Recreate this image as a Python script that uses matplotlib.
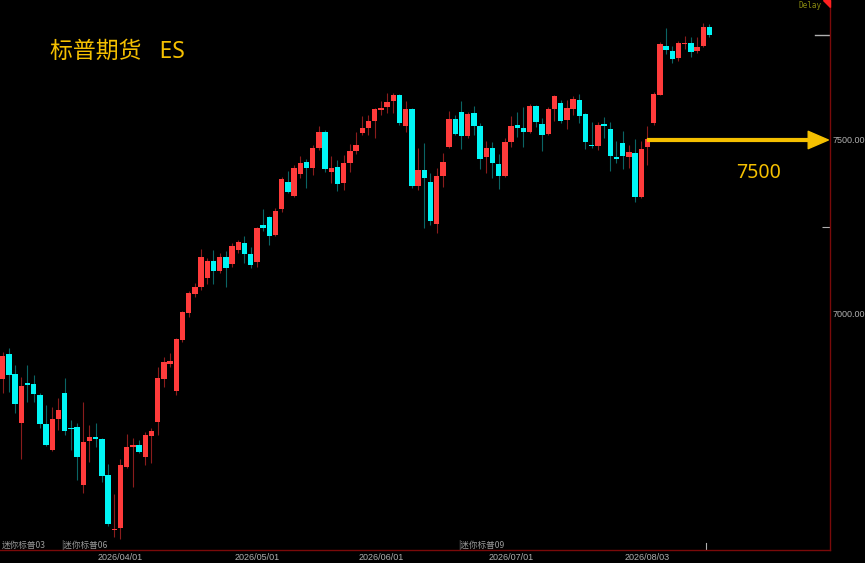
import matplotlib
matplotlib.use("Agg")
import matplotlib.pyplot as plt
from matplotlib.patches import Polygon

# daily candles, mini S&P (ES)
opens = [
    6813.2, 6885.0, 6827.6, 6686.8, 6801.7, 6798.9, 6767.2, 6683.9, 6609.2, 6698.3,
    6773.0, 6672.4, 6675.3, 6508.6, 6635.0, 6646.5, 6640.8, 6537.2, 6379.3, 6385.0,
    6560.3, 6617.8, 6623.5, 6589.1, 6649.4, 6689.6, 6813.2, 6856.3, 6778.7, 6925.3,
    7002.9, 7057.5, 7077.6, 7103.4, 7152.3, 7123.5, 7163.8, 7143.7, 7183.9, 7204.0,
    7172.4, 7149.4, 7255.7, 7278.7, 7227.0, 7301.7, 7379.3, 7339.1, 7402.3, 7436.8,
    7419.5, 7477.0, 7523.0, 7408.0, 7422.4, 7376.4, 7433.9, 7468.4, 7520.1, 7534.5,
    7554.6, 7586.2, 7594.8, 7612.1, 7629.3, 7540.2, 7589.1, 7367.8, 7413.8, 7379.3,
    7258.6, 7396.5, 7479.9, 7560.3, 7580.5, 7511.5, 7577.6, 7540.2, 7451.1, 7477.0,
    7431.1, 7396.5, 7494.3, 7543.1, 7534.5, 7523.0, 7597.7, 7546.0, 7517.2, 7589.1,
    7606.3, 7557.5, 7589.1, 7615.0, 7574.7, 7485.6, 7482.8, 7546.0, 7531.6, 7451.1,
    7491.4, 7451.1, 7462.6, 7336.2, 7479.9, 7548.9, 7629.3, 7770.1, 7755.8, 7735.6,
    7775.9, 7778.7, 7755.8, 7770.1, 7824.7]
closes = [
    6879.3, 6824.7, 6741.4, 6793.1, 6796.0, 6770.1, 6683.9, 6623.5, 6698.3, 6724.1,
    6663.8, 6669.5, 6589.1, 6632.2, 6646.5, 6640.8, 6534.3, 6396.5, 6382.1, 6566.1,
    6617.8, 6623.5, 6603.4, 6652.3, 6663.8, 6816.1, 6862.0, 6864.9, 6928.2, 7005.8,
    7060.4, 7077.6, 7163.8, 7152.3, 7123.5, 7163.8, 7131.1, 7195.4, 7206.9, 7172.4,
    7140.8, 7247.1, 7247.1, 7224.1, 7296.0, 7387.9, 7350.6, 7419.5, 7433.9, 7419.5,
    7477.0, 7523.0, 7416.7, 7419.5, 7373.6, 7433.9, 7468.4, 7485.6, 7534.5, 7554.6,
    7589.1, 7592.0, 7609.2, 7629.3, 7548.9, 7589.1, 7367.8, 7413.8, 7390.8, 7267.3,
    7396.5, 7436.8, 7560.3, 7517.2, 7511.5, 7574.7, 7540.2, 7445.4, 7477.0, 7433.9,
    7396.5, 7494.3, 7540.2, 7534.5, 7523.0, 7597.7, 7551.7, 7514.4, 7589.1, 7626.4,
    7554.6, 7592.0, 7617.8, 7568.9, 7494.3, 7482.8, 7543.1, 7540.2, 7454.0, 7445.4,
    7454.0, 7465.5, 7336.2, 7474.1, 7502.9, 7632.2, 7775.9, 7758.6, 7732.8, 7778.7,
    7778.7, 7752.9, 7767.2, 7824.7, 7801.7]
highs = [
    6890.8, 6902.3, 6853.4, 6819.0, 6853.4, 6824.7, 6772.0, 6738.5, 6732.7, 6758.6,
    6816.1, 6695.4, 6686.8, 6747.1, 6681.0, 6686.8, 6643.0, 6568.9, 6482.7, 6583.3,
    6655.2, 6643.7, 6638.0, 6660.9, 6672.4, 6847.7, 6876.4, 6887.9, 6931.0, 7008.6,
    7066.1, 7089.1, 7186.8, 7160.9, 7183.9, 7175.3, 7181.0, 7204.0, 7212.6, 7224.1,
    7192.5, 7250.0, 7301.7, 7281.0, 7304.6, 7393.7, 7410.9, 7428.2, 7454.0, 7445.4,
    7485.6, 7540.2, 7528.7, 7454.0, 7442.5, 7456.9, 7488.5, 7523.0, 7568.9, 7571.8,
    7592.0, 7612.1, 7635.1, 7635.1, 7632.0, 7612.1, 7592.0, 7477.0, 7491.4, 7405.2,
    7419.5, 7462.6, 7583.3, 7571.8, 7612.1, 7580.5, 7597.7, 7548.9, 7497.1, 7494.3,
    7459.8, 7505.7, 7568.9, 7580.5, 7594.8, 7603.5, 7600.0, 7563.2, 7594.8, 7628.0,
    7615.0, 7615.0, 7626.4, 7632.2, 7577.0, 7551.7, 7551.7, 7566.1, 7551.7, 7497.1,
    7525.9, 7485.6, 7502.9, 7497.1, 7540.2, 7637.9, 7781.6, 7821.8, 7770.1, 7784.5,
    7798.9, 7796.0, 7796.0, 7836.2, 7833.3]
lows = [
    6773.0, 6775.8, 6715.5, 6583.3, 6747.1, 6747.1, 6672.4, 6620.7, 6605.0, 6666.7,
    6652.3, 6609.2, 6522.9, 6485.6, 6574.7, 6617.8, 6517.2, 6390.7, 6359.2, 6353.4,
    6558.0, 6502.9, 6600.6, 6566.1, 6571.8, 6652.3, 6790.2, 6847.7, 6767.2, 6919.6,
    6991.4, 7048.9, 7069.0, 7086.2, 7086.2, 7117.8, 7077.6, 7135.0, 7175.3, 7146.5,
    7131.1, 7135.0, 7238.5, 7198.3, 7225.0, 7293.1, 7347.7, 7336.2, 7390.8, 7362.1,
    7399.4, 7471.3, 7408.0, 7376.4, 7353.5, 7356.3, 7408.0, 7459.8, 7514.4, 7514.4,
    7505.7, 7571.8, 7577.6, 7577.6, 7543.1, 7523.0, 7362.1, 7356.3, 7247.1, 7255.7,
    7232.8, 7365.0, 7477.0, 7514.4, 7474.1, 7505.7, 7514.4, 7416.7, 7405.2, 7390.8,
    7359.2, 7394.0, 7479.9, 7508.6, 7479.9, 7520.0, 7537.4, 7468.4, 7515.0, 7554.6,
    7548.9, 7531.6, 7571.8, 7548.9, 7474.1, 7477.0, 7471.3, 7505.7, 7410.9, 7433.9,
    7416.7, 7419.5, 7321.8, 7333.3, 7428.2, 7543.1, 7628.0, 7747.1, 7721.3, 7727.0,
    7761.5, 7738.5, 7750.0, 7767.2, 7796.0]

date_pos = [19, 41, 61, 82, 104]
date_labels = ["2026/04/01", "2026/05/01", "2026/06/01", "2026/07/01", "2026/08/03"]
contract_pos = [-0.2, 9.5, 73.5]
contract_labels = ["迷你标普03", "|迷你标普06", "|迷你标普09"]
price_ticks = [7000, 7500]
price_labels = ["7000.00", "7500.00"]
level = 7500
arrow_from = 104

UP = "#ff3b3b"
DOWN = "#00f5f5"
UP_WICK = "#8a1c1c"
DOWN_WICK = "#0a6464"
GOLD = "#f5c000"
GRAY = "#b0b0b0"
AXIS = "#7a0a0a"
CJK = ["Noto Sans CJK SC", "DejaVu Sans"]
MIXED = ["Noto Sans", "Noto Sans CJK SC"]

fig = plt.figure(figsize=(8.65, 5.63), dpi=100, facecolor="black")
ax = fig.add_axes([0, 13 / 563, 830 / 865, 550 / 563], facecolor="black")

n = len(opens)
xs = list(range(n))
up = [c >= o for o, c in zip(opens, closes)]
body_col = [UP if u else DOWN for u in up]
wick_col = [UP_WICK if u else DOWN_WICK for u in up]
bottoms = [min(o, c) for o, c in zip(opens, closes)]
heights = [max(abs(c - o), 3.0) for o, c in zip(opens, closes)]

ax.vlines(xs, lows, highs, colors=wick_col, linewidth=0.8, zorder=1)
ax.bar(xs, heights, bottom=bottoms, width=0.86, color=body_col, linewidth=0, zorder=2)

ax.set_xlim(-0.435, 133.44)
ax.set_ylim(6321.8, 7902.3)

for s in ["top", "left"]:
    ax.spines[s].set_visible(False)
ax.spines["bottom"].set_color(AXIS)
ax.spines["right"].set_color(AXIS)
ax.spines["bottom"].set_linewidth(1.0)
ax.spines["right"].set_linewidth(1.0)

ax.yaxis.tick_right()
ax.set_yticks(price_ticks)
ax.set_yticklabels(price_labels)
ax.set_yticks([7250], minor=True)
ax.tick_params(axis="y", which="major", length=0, pad=2, labelsize=6.5, labelcolor=GRAY)
ax.tick_params(axis="y", which="minor", direction="in", length=6, color=GRAY, width=0.8)
for t in ax.get_yticklabels():
    t.set_fontfamily("Liberation Sans")

ax.set_xticks(date_pos)
ax.set_xticklabels(date_labels)
ax.tick_params(axis="x", length=0, pad=2, labelsize=6.5, labelcolor=GRAY)
for t in ax.get_xticklabels():
    t.set_fontfamily("Liberation Sans")

# contract roll labels along the bottom
for p, lab in zip(contract_pos, contract_labels):
    ax.text(p, 0.009, lab, transform=ax.get_xaxis_transform(), color="#9a9a9a",
            fontsize=6.2, family=CJK, ha="left", va="center")
ax.axvline(113.5, ymin=0, ymax=7 / 550, color=GRAY, lw=0.8)

# last price marker on the axis
ax.axhline(closes[-1], xmin=0.982, xmax=1.0, color=GRAY, lw=1.0)

# 7500 arrow
ax.annotate("", xy=(0.998, level), xycoords=("axes fraction", "data"),
            xytext=(arrow_from, level), textcoords="data",
            arrowprops=dict(arrowstyle="simple,head_length=1.45,head_width=1.25,tail_width=0.2",
                            color=GOLD, shrinkA=0, shrinkB=0, mutation_scale=10))
ax.text(118.3, 7405, "7500", color=GOLD, fontsize=14, family=MIXED, ha="left", va="center")

fig.text(50 / 865, 1 - 52 / 563, "标普期货   ES", color=GOLD, fontsize=16.5,
         family=MIXED, ha="left", va="center")
fig.text(822 / 865, 1 - 5 / 563, "Delay", color="#8a8a10", fontsize=5.5,
         family="DejaVu Sans Mono", ha="right", va="center")
fig.patches.append(Polygon([[823 / 865, 1], [830 / 865, 1], [830 / 865, 1 - 7 / 563]],
                           closed=True, transform=fig.transFigure, color="#ff2020"))

fig.savefig("out.png", dpi=100, facecolor="black")
